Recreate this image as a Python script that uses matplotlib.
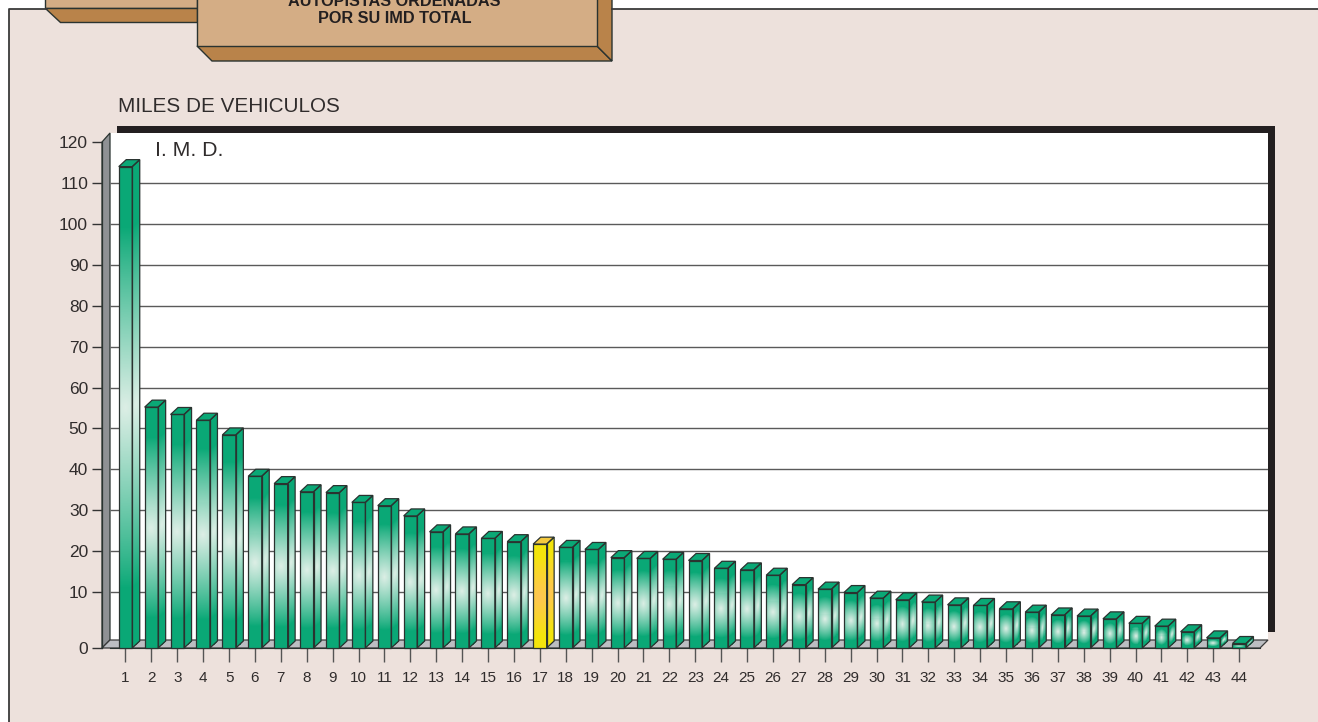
import matplotlib
matplotlib.use("Agg")
import matplotlib.pyplot as plt
import numpy as np
from matplotlib.colors import LinearSegmentedColormap
from matplotlib.patches import Polygon, Rectangle

# I.M.D. per autopista, miles de vehiculos
autopistas = list(range(1, 45))
imd = [114.0, 55.2, 53.4, 52.0, 48.4, 38.3, 36.5, 34.5, 34.3, 31.9, 31.1,
       28.6, 24.7, 24.2, 23.1, 22.3, 21.7, 20.9, 20.4, 18.4, 18.2, 18.0,
       17.7, 15.8, 15.4, 14.1, 11.8, 10.7, 9.9, 8.9, 8.6, 8.2, 7.7, 7.6,
       7.0, 6.4, 5.9, 5.7, 5.2, 4.4, 3.9, 2.9, 1.8, 0.8]
resaltada = 17
y_ticks = [0, 10, 20, 30, 40, 50, 60, 70, 80, 90, 100, 110, 120]

W, H = 1318, 722
GREEN, PALE = "#0AA876", "#DCEEE5"
YELLOW, ORANGE = "#F3E40C", "#FFC453"
EDGE = "#2A3330"
TEXT = "#302C2C"
PANEL = "#EDE1DC"
TAN, TAN_DARK = "#D4AD85", "#B9834A"
SANS = ["Liberation Sans"]

# the axis is broken below 10: 0-10 takes 56 px, after that 4.09 px per unit
scale_v = [0, 10, 130]
scale_px = [0, 56, 56 + 120 * 4.09]


def fwd(v):
    return np.interp(v, scale_v, scale_px)


def inv(p):
    return np.interp(p, scale_px, scale_v)


def shade(h, n_rows, n_cols):
    """Pale glow in the middle of a bar face, h = face height in px."""
    ty = np.abs(np.linspace(-1, 1, n_rows))[:, None] / 0.75
    tx = np.abs(np.linspace(-1, 1, n_cols))[None, :]
    a = min(1.0, 25 / h)
    r = np.sqrt(ty ** 2 + (tx * a) ** 2)
    return np.clip(1 - r, 0, 1) ** 0.9


def draw_bar(ax, cat, value, cmap, top_color, z):
    bw = 13.5 / 25.9  # front width, in categories
    dx = 7.5 / 25.9
    dy = 7.0
    h = float(fwd(value))
    rows = max(int(h), 4)
    left, right = cat - bw / 2, cat + bw / 2
    ys = np.linspace(0, h, rows + 1)

    # front face
    xs = np.linspace(left, right, 15)
    X, Y = np.meshgrid(xs, ys)
    ax.pcolormesh(X, inv(Y), shade(h, rows, 14), cmap=cmap, vmin=0, vmax=1,
                  zorder=z, clip_on=False, rasterized=True)

    # side face, skewed backwards
    fr = np.linspace(0, 1, 9)
    X = right + fr[None, :] * dx + 0 * ys[:, None]
    Y = ys[:, None] + fr[None, :] * dy
    ax.pcolormesh(X, inv(Y), shade(h, rows, 8), cmap=cmap, vmin=0, vmax=1,
                  zorder=z, clip_on=False, rasterized=True)

    # top face and outlines
    ax.add_patch(Polygon([(left, inv(h)), (right, inv(h)),
                          (right + dx, inv(h + dy)), (left + dx, inv(h + dy))],
                         facecolor=top_color, edgecolor=EDGE, lw=0.9,
                         zorder=z + 1, clip_on=False))
    ax.add_patch(Polygon([(left, 0), (right, 0), (right, inv(h)), (left, inv(h))],
                         fill=False, edgecolor=EDGE, lw=0.9, zorder=z + 1,
                         clip_on=False))
    ax.add_patch(Polygon([(right, 0), (right + dx, inv(dy)),
                          (right + dx, inv(h + dy)), (right, inv(h))],
                         fill=False, edgecolor=EDGE, lw=0.9, zorder=z + 1,
                         clip_on=False))


fig = plt.figure(figsize=(W / 100, H / 100), dpi=100, facecolor="white")

# background layer, in picture pixels
bg = fig.add_axes([0, 0, 1, 1])
bg.set_xlim(0, W)
bg.set_ylim(H, 0)
bg.axis("off")

bg.add_patch(Rectangle((9, 9), W - 9, H - 9, facecolor=PANEL, edgecolor="none"))
bg.plot([9, 9, 46], [H, 9, 9], color="#3A3A3A", lw=1.3)
bg.plot([612, W], [9, 9], color="#3A3A3A", lw=1.3)

# header tabs
bg.add_patch(Polygon([(45, -2), (197, -2), (197, 8), (45, 8)], facecolor=TAN,
                     edgecolor=EDGE, lw=1))
bg.add_patch(Polygon([(45, 8), (197, 8), (197, 22), (60, 22)], facecolor=TAN_DARK,
                     edgecolor=EDGE, lw=1))
bg.add_patch(Polygon([(197, 46), (597, 46), (612, 61), (212, 61)],
                     facecolor=TAN_DARK, edgecolor=EDGE, lw=1))
bg.add_patch(Polygon([(597, -2), (612, -2), (612, 61), (597, 46)],
                     facecolor=TAN_DARK, edgecolor=EDGE, lw=1))
bg.add_patch(Rectangle((197, -2), 400, 48, facecolor=TAN, edgecolor=EDGE, lw=1))
bg.text(394.5, 1, "AUTOPISTAS ORDENADAS", ha="center", va="center", fontsize=11.7,
        fontweight="bold", family=SANS, color="#231F20")
bg.text(394.5, 18.5, "POR SU IMD TOTAL", ha="center", va="center", fontsize=11.7,
        fontweight="bold", family=SANS, color="#231F20")

# chart box: black frame, white wall, grey side wall and floor
bg.add_patch(Polygon([(117, 126), (1275, 126), (1275, 632), (1268, 632),
                      (1268, 133), (117, 133)], facecolor="#231F20", edgecolor="none"))
bg.add_patch(Rectangle((110, 133), 1158, 507, facecolor="white", edgecolor="none"))
bg.add_patch(Polygon([(102, 142), (110, 133), (110, 640), (102, 648)],
                     facecolor="#8F9194", edgecolor=EDGE, lw=0.9))
bg.add_patch(Polygon([(102, 648), (110, 640), (1268, 640), (1260, 648)],
                     facecolor="#BCBEC2", edgecolor="#3A3A3A", lw=0.9))

bg.text(118, 107, "MILES DE VEHICULOS", ha="left", va="center", fontsize=14.9,
        family=SANS, color=TEXT)
bg.text(155, 150, "I. M. D.", ha="left", va="center", fontsize=15.3,
        family=SANS, color=TEXT)

# data layer: axes run from the wall left edge to its right edge
x0, x1, y_bot, y_top = 110, 1268, 648, 126
ax = fig.add_axes([x0 / W, 1 - y_bot / H, (x1 - x0) / W, (y_bot - y_top) / H])
ax.patch.set_alpha(0)
ax.set_xlim((x0 - 125.5) / 25.9 + 1, (x1 - 125.5) / 25.9 + 1)
ax.set_yscale("function", functions=(fwd, inv))
ax.set_ylim(0, inv(y_bot - y_top))

for s in ["top", "right"]:
    ax.spines[s].set_visible(False)
ax.spines["left"].set_position(("outward", 8 * 0.72))
ax.spines["left"].set_bounds(0, 120)
ax.spines["left"].set_color(EDGE)
ax.spines["left"].set_linewidth(0.9)
ax.spines["bottom"].set_bounds(ax.get_xlim()[0], (1260 - 125.5) / 25.9 + 1)
ax.spines["bottom"].set_color(EDGE)

ax.set_xticks(autopistas, [str(a) for a in autopistas], family=SANS, fontsize=11,
              color=TEXT)
ax.set_yticks(y_ticks, [str(t) for t in y_ticks], family=SANS, fontsize=12.5, color=TEXT)
ax.minorticks_off()
ax.tick_params(axis="x", length=10, width=1, color="#555555", pad=6.5)
ax.tick_params(axis="y", length=7, width=1, color="#333333", pad=3)

ax.hlines(y_ticks[1:-1], *ax.get_xlim(), color="#5A5A5A", lw=1.0, zorder=1)

green_map = LinearSegmentedColormap.from_list("verde", [GREEN, PALE])
yellow_map = LinearSegmentedColormap.from_list("amarillo", [YELLOW, ORANGE])

for cat, value in zip(autopistas, imd):
    if cat == resaltada:
        draw_bar(ax, cat, value, yellow_map, "#F4C93F", 3)
    else:
        draw_bar(ax, cat, value, green_map, GREEN, 3)

fig.savefig("out.png", dpi=100)
